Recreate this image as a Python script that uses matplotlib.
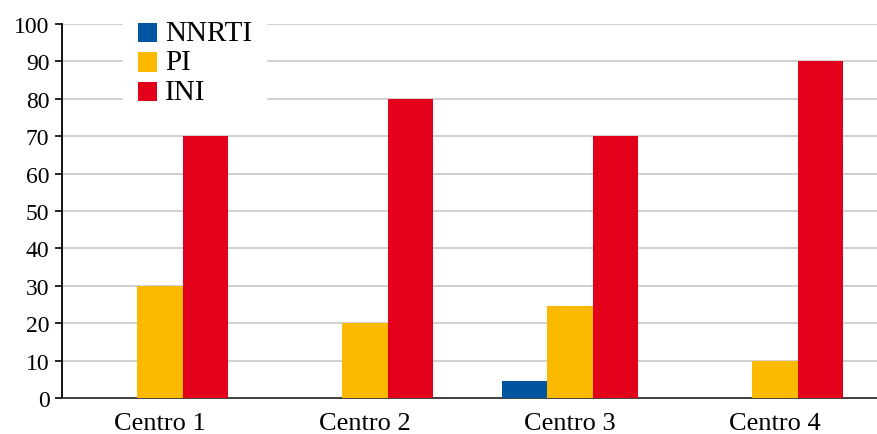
import matplotlib
matplotlib.use("Agg")
import matplotlib.pyplot as plt
import matplotlib.transforms as mtransforms
import numpy as np

categories = ["Centro 1", "Centro 2", "Centro 3", "Centro 4"]
series_names = ["NNRTI", "PI", "INI"]
nnrti = [0, 0, 4.5, 0]
pi = [30, 20, 24.5, 10]
ini = [70, 80, 70, 90]
y_ticks = [0, 10, 20, 30, 40, 50, 60, 70, 80, 90, 100]

colors = ["#0054A0", "#FBBA00", "#E2001A"]

plt.rcParams["font.family"] = ["Liberation Serif", "DejaVu Serif"]

fig = plt.figure(figsize=(8.77, 4.35), dpi=100)
ax = fig.add_axes([62 / 877, 1 - 399 / 435, 1 - 62 / 877, (399 - 25) / 435])

x = np.arange(len(categories))
w = 0.222
for i, (vals, name) in enumerate(zip([nnrti, pi, ini], series_names)):
    ax.bar(x + (i - 1) * w, vals, width=w, color=colors[i], label=name, zorder=3)

ax.set_xlim(-0.478, 3.498)
ax.set_ylim(0, 100)
ax.set_yticks(y_ticks)
ax.set_xticks(x)
ax.set_xticklabels(categories)
ax.tick_params(axis="y", length=5, width=1.2, labelsize=17, pad=4, color="black")
ax.tick_params(axis="x", length=0, labelsize=19, pad=10)
ax.yaxis.grid(True, color="#c8c8c8", linewidth=1.2, zorder=0)
ax.set_axisbelow(True)

for s in ["top", "right"]:
    ax.spines[s].set_visible(False)
ax.spines["left"].set_color("black")
ax.spines["left"].set_linewidth(1.3)
ax.spines["bottom"].set_color("#333333")
ax.spines["bottom"].set_linewidth(1.3)

leg = ax.legend(loc="upper left", bbox_to_anchor=(123 / 877, 1 - 9 / 435),
                bbox_transform=fig.transFigure, frameon=True, fontsize=21,
                handlelength=0.65, handleheight=0.65, handletextpad=0.28,
                labelspacing=0.12, borderpad=0.5, borderaxespad=0,
                fancybox=False)
leg.get_frame().set_facecolor("white")
leg.get_frame().set_edgecolor("white")
leg.get_frame().set_alpha(1)
leg.set_zorder(5)
# lift legend labels so their caps line up with the colour squares
lift = mtransforms.ScaledTranslation(0, 3 / 100, fig.dpi_scale_trans)
for t in leg.get_texts():
    t.set_transform(t.get_transform() + lift)

fig.savefig("out.png", dpi=100)
